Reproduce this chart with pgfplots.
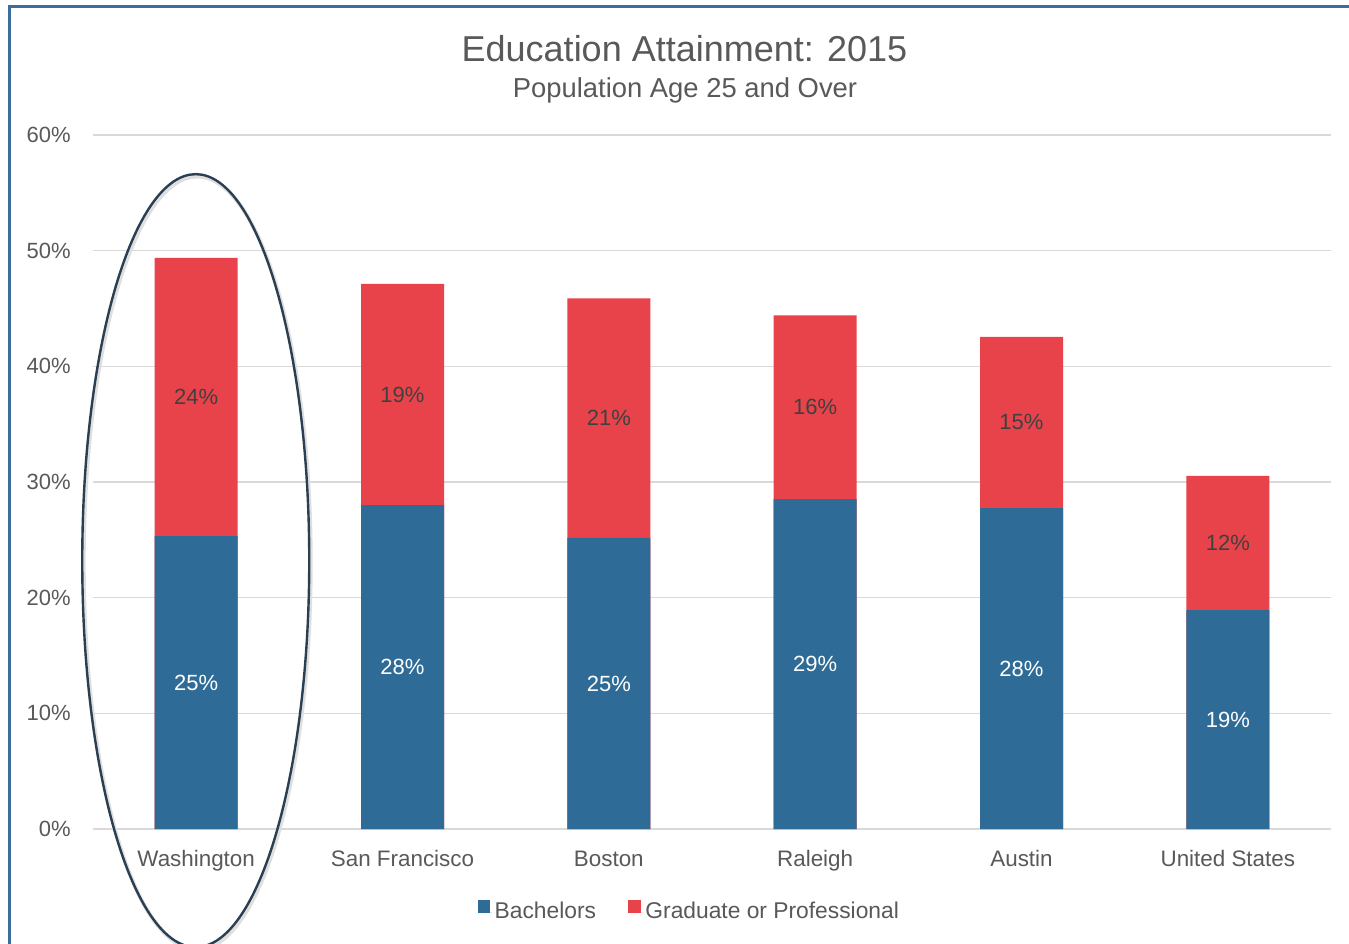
\documentclass[border=0pt]{standalone}
\usepackage{pgfplots}
\pgfplotsset{compat=1.18}
\usepackage{pgfplotstable}
\usepackage{fontspec}
\setmainfont{Liberation Sans}
\definecolor{barblue}{HTML}{2E6B96}
\definecolor{barred}{HTML}{E8434A}
\definecolor{txtgrey}{HTML}{595959}
\definecolor{lblgrey}{HTML}{404040}
\definecolor{gridgrey}{HTML}{D9D9D9}
\definecolor{framecol}{HTML}{3B6E9C}
\definecolor{ellcol}{HTML}{2B3F52}

\pgfplotstableread{
x b g
0 25.33 24.04
1 28.01 19.11
2 25.16 20.72
3 28.52 15.88
4 27.75 14.80
5 18.93 11.59
}\data

\begin{document}
\begin{tikzpicture}
\clip (0,0) rectangle (674.5pt,471.5pt);
\fill[white] (0,0) rectangle (674.5pt,471.5pt);
\draw[framecol, line width=1.1pt] (4.75pt,-2pt) -- (4.75pt,468.25pt) -- (680pt,468.25pt);
\node[anchor=base, text=txtgrey, font=\fontsize{18}{20}\selectfont, inner sep=0pt] at (342.25pt,440.5pt) {Education Attainment: 2015};
\node[anchor=base, text=txtgrey, font=\fontsize{13.7}{15}\selectfont, inner sep=0pt] at (342.5pt,422.5pt) {Population Age 25 and Over};
\begin{axis}[
  at={(46.5pt,57pt)}, anchor=south west,
  scale only axis, width=619pt, height=347pt,
  xmin=-0.5, xmax=5.5, ymin=0, ymax=60,
  clip=false,
  axis line style={draw=none},
  tick style={draw=none},
  ymajorgrids, grid style={gridgrey, line width=0.8pt},
  ytick={0,10,...,60},
  yticklabel={\pgfmathprintnumber{\tick}\%},
  /pgf/number format/assume math mode=true,
  yticklabel style={anchor=east, inner sep=0pt, xshift=-11pt, text=txtgrey, font=\fontsize{11}{13}\selectfont},
  xtick={0,...,5},
  xticklabels={Washington, San Francisco, Boston, Raleigh, Austin, United States},
  xticklabel style={anchor=base, inner sep=0pt, yshift=-18.5pt, text=txtgrey, font=\fontsize{11.2}{13}\selectfont},
  legend columns=2,
  reverse legend,
  legend style={at={(0.4818,-0.1196)}, anchor=center, draw=none, fill=none,
    font=\fontsize{11.4}{13}\selectfont, text=txtgrey,
    /tikz/every even column/.append style={column sep=15pt},
    nodes={inner sep=1.2pt}},
  legend image code/.code={\fill[#1] (0pt,-0.5pt) rectangle (6.3pt,5.9pt);\path (0pt,0pt) -- (7.3pt,0pt);},
]
% graduate segment (drawn as total, blue overlays bottom)
\addplot[ybar, bar width=41.5pt, bar shift=0pt, fill=barred, draw=none]
  table[x=x, y expr=\thisrow{b}+\thisrow{g}] {\data};
\addlegendentry{Graduate or Professional}
\addplot[ybar, bar width=41.5pt, bar shift=0pt, fill=barblue, draw=none]
  table[x=x, y=b] {\data};
\addlegendentry{Bachelors}
% data labels
\addplot[draw=none, mark=none, forget plot, point meta=\thisrow{b},
  nodes near coords={\pgfmathprintnumber[fixed,precision=0]{\pgfplotspointmeta}\%},
  every node near coord/.append style={anchor=center, inner sep=0pt, text=white, font=\fontsize{11}{13}\selectfont}]
  table[x=x, y expr=\thisrow{b}/2] {\data};
\addplot[draw=none, mark=none, forget plot, point meta=\thisrow{g},
  nodes near coords={\pgfmathprintnumber[fixed,precision=0]{\pgfplotspointmeta}\%},
  every node near coord/.append style={anchor=center, inner sep=0pt, text=lblgrey, font=\fontsize{11}{13}\selectfont}]
  table[x=x, y expr=\thisrow{b}+\thisrow{g}/2] {\data};
% annotation ellipse
\draw[gray!25, line width=2pt] (axis cs:0.005,23.0) ellipse [x radius=56.75pt, y radius=193.25pt];
\draw[ellcol, line width=1.2pt] (axis cs:-0.002,23.2) ellipse [x radius=56.75pt, y radius=193.25pt];
\end{axis}
\end{tikzpicture}
\end{document}
